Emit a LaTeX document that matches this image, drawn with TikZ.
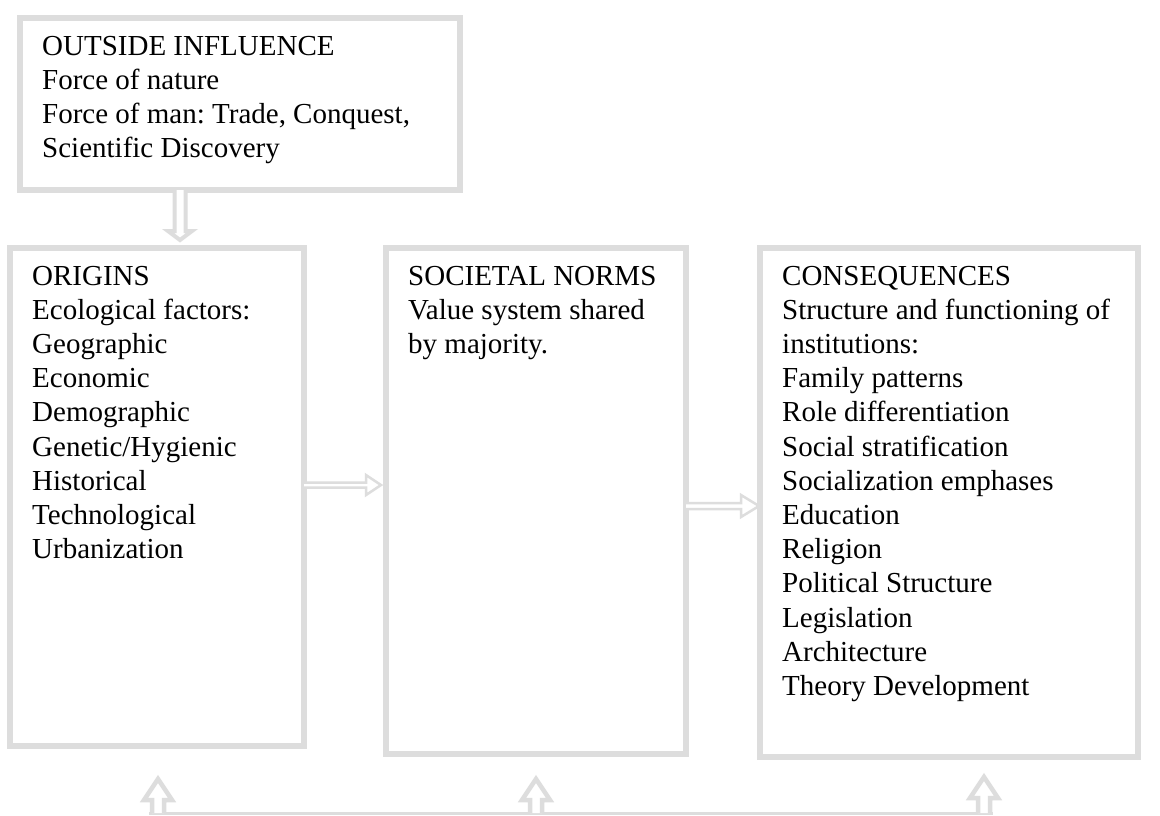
\documentclass[tikz,border=0pt]{standalone}
\usepackage{fontspec}
\setmainfont{Liberation Serif}
\usetikzlibrary{calc}
\frenchspacing
\definecolor{boxgray}{RGB}{221,221,221}
\tikzset{
  boxnode/.style={draw=boxgray, line width=6pt, inner sep=0pt, outer sep=0pt, fill=white},
  txt/.style={inner sep=0pt, anchor=base west, font=\fontsize{29}{34.2}\selectfont},
  hollowline/.style={draw=boxgray, fill=white, line join=miter},
}
\newcommand\hollowarrow[6]{%
  \coordinate (hb) at ($(#2)!#5!(#1)$);
  \draw[hollowline, line width=#6] ($(#1)!#3!90:(#2)$) -- ($(hb)!#3!90:(#2)$) -- ($(hb)!#4!90:(#2)$) -- (#2) -- ($(hb)!#4!-90:(#2)$) -- ($(hb)!#3!-90:(#2)$) -- ($(#1)!#3!-90:(#2)$);
}
\begin{document}
\begin{tikzpicture}[x=1pt,y=-1pt]
\useasboundingbox[fill=white] (0,0) rectangle (1160,815);
% boxes
\node[boxnode, minimum width=440pt, minimum height=172.5pt] (oi) at (240,103.75) {};
\node[boxnode, minimum width=294pt, minimum height=498pt] (or) at (157,497) {};
\node[boxnode, minimum width=300pt, minimum height=506pt] (sn) at (536,501) {};
\node[boxnode, minimum width=378pt, minimum height=509pt] (cq) at (949,502.5) {};
% texts
\node[txt] (toi) at ($(oi.north west)+(22,37.5)$) {\parbox[t]{420pt}{OUTSIDE INFLUENCE\\Force of nature\\Force of man: Trade, Conquest,\\Scientific Discovery}};
\node[txt] (tor) at ($(or.north west)+(22,37)$) {\parbox[t]{270pt}{ORIGINS\\Ecological factors:\\Geographic\\Economic\\Demographic\\Genetic/Hygienic\\Historical\\Technological\\Urbanization}};
\node[txt] (tsn) at ($(sn.north west)+(22,37)$) {\parbox[t]{270pt}{SOCIETAL NORMS\\Value system shared\\by majority.}};
\node[txt] (tcq) at ($(cq.north west)+(22,37)$) {\parbox[t]{350pt}{CONSEQUENCES\\Structure and functioning of\\institutions:\\Family patterns\\Role differentiation\\Social stratification\\Socialization emphases\\Education\\Religion\\Political Structure\\Legislation\\Architecture\\Theory Development}};
% connector points
\coordinate (d0) at ($(oi.south west)+(160,0)$);
\coordinate (d1) at ($(or.north west)+(170,-8)$);
\coordinate (h0) at ($(or.north east)+(0,237)$);
\coordinate (h1) at ($(sn.north west)+(-5,237)$);
\coordinate (k0) at ($(sn.north east)+(0,258)$);
\coordinate (k1) at ($(cq.north west)+(-1,258)$);
\coordinate (fbL) at ($(or.south)+(-8,67)$);
\coordinate (fbR) at ($(cq.south)+(44,56)$);
\coordinate (u1s) at ($(or.south)+(1,67)$);
\coordinate (u1e) at ($(or.south)+(1,33)$);
\coordinate (u2s) at ($(sn.south)+(0,59)$);
\coordinate (u2e) at ($(sn.south)+(0,25)$);
\coordinate (u3s) at ($(cq.south)+(35,56)$);
\coordinate (u3e) at ($(cq.south)+(35,20)$);
% arrows
\hollowarrow{d0}{d1}{5.5pt}{12pt}{9pt}{4pt}
\hollowarrow{h0}{h1}{2.5pt}{10pt}{15pt}{2.5pt}
\hollowarrow{k0}{k1}{3pt}{11pt}{18pt}{2.5pt}
\draw[draw=boxgray, line width=3pt] (fbL) -- (fbR);
\hollowarrow{u1s}{u1e}{6pt}{14pt}{21pt}{4.5pt}
\hollowarrow{u2s}{u2e}{6pt}{14pt}{21pt}{4.5pt}
\hollowarrow{u3s}{u3e}{6pt}{14pt}{21pt}{4.5pt}
\end{tikzpicture}
\end{document}
